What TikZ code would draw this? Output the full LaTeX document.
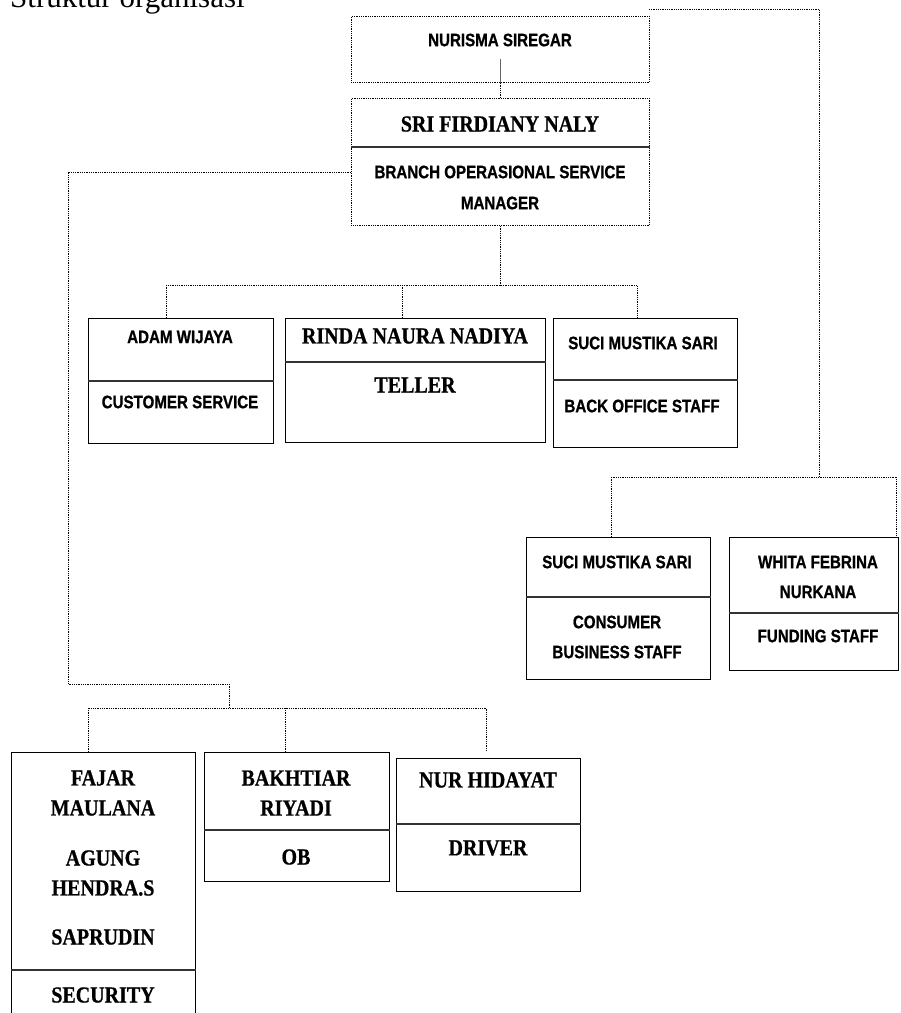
\documentclass[tikz,border=0pt]{standalone}
\usepackage{fontspec}
\setmainfont{Liberation Serif}
\newfontfamily\lblsans[FakeStretch=0.84,FakeBold=0.9]{Liberation Sans Bold}
\newfontfamily\lblserif[FakeStretch=0.87,FakeBold=0.7]{Liberation Serif Bold}

\begin{document}
\begin{tikzpicture}[x=1pt,y=-1pt,
  box/.style={draw,line width=0.8pt,inner sep=0pt,anchor=north west},
  dbox/.style={box,densely dotted},
  link/.style={densely dotted,line width=0.8pt},
  sepline/.style={line width=1.1pt,draw=black!80},
  sans/.style={inner sep=0pt,font=\lblsans\fontsize{18}{18}\selectfont},
  serif/.style={inner sep=0pt,font=\lblserif\fontsize{23}{23}\selectfont}]
% ---- ukuran halaman (piksel) ----
\fill[white] (0,0) rectangle (901,1013);
\useasboundingbox (0,0) rectangle (901,1013);
\node[anchor=base west,inner sep=0pt,font=\fontsize{31}{31}\selectfont] (judul) at (10,7) {Struktur organisasi};

% ---- pimpinan ----
\node[dbox,minimum width=298,minimum height=66] (nurisma) at (351,16) {};
\node[sans] (nurismaN) at (500,40) {NURISMA SIREGAR};
\node[dbox,minimum width=298,minimum height=127] (sri) at (351,98) {};
\draw[sepline] (sri.west |- 0,147) -- (sri.east |- 0,147);
\node[serif] (sriN) at (500,124) {SRI FIRDIANY NALY};
\node[sans] (sriJ1) at (500,172) {BRANCH OPERASIONAL SERVICE};
\node[sans] (sriJ2) at (500,203) {MANAGER};

% ---- baris tengah ----
\node[box,minimum width=185,minimum height=125] (adam) at (88,318) {};
\draw[sepline] (adam.west |- 0,381) -- (adam.east |- 0,381);
\node[sans] (adamN) at (180,337) {ADAM WIJAYA};
\node[sans] (adamJ) at (180,402) {CUSTOMER SERVICE};
\node[box,minimum width=260,minimum height=124] (teller) at (285,318) {};
\draw[sepline] (teller.west |- 0,362) -- (teller.east |- 0,362);
\node[serif] (tellerN) at (415,336) {RINDA NAURA NADIYA};
\node[serif] (tellerJ) at (415,385) {TELLER};
\node[box,minimum width=184,minimum height=129] (suci) at (553,318) {};
\draw[sepline] (suci.west |- 0,380) -- (suci.east |- 0,380);
\node[sans] (suciN) at (643,343) {SUCI MUSTIKA SARI};
\node[sans] (suciJ) at (642,406) {BACK OFFICE STAFF};

% ---- baris kanan ----
\node[box,minimum width=184,minimum height=142] (consumer) at (526,537) {};
\draw[sepline] (consumer.west |- 0,597) -- (consumer.east |- 0,597);
\node[sans] (consumerN) at (617,562) {SUCI MUSTIKA SARI};
\node[sans] (consumerJ1) at (617,622) {CONSUMER};
\node[sans] (consumerJ2) at (617,652) {BUSINESS STAFF};
\node[box,minimum width=169,minimum height=133] (whita) at (729,537) {};
\draw[sepline] (whita.west |- 0,613) -- (whita.east |- 0,613);
\node[sans] (whitaN1) at (818,562) {WHITA FEBRINA};
\node[sans] (whitaN2) at (818,592) {NURKANA};
\node[sans] (whitaJ) at (818,636) {FUNDING STAFF};

% ---- baris bawah ----
\node[box,minimum width=184,minimum height=290] (fajar) at (11,752) {};
\draw[sepline] (fajar.west |- 0,970) -- (fajar.east |- 0,970);
\foreach \t/\y [count=\i] in {FAJAR/778,MAULANA/808,AGUNG/858,HENDRA.S/888,SAPRUDIN/937}
  \node[serif] (fajarN\i) at (103,\y) {\t};
\node[serif] (fajarJ) at (103,995) {SECURITY};
\node[box,minimum width=185,minimum height=129] (bakhtiar) at (204,752) {};
\draw[sepline] (bakhtiar.west |- 0,830) -- (bakhtiar.east |- 0,830);
\node[serif] (bakhtiarN1) at (296,778) {BAKHTIAR};
\node[serif] (bakhtiarN2) at (296,808) {RIYADI};
\node[serif] (bakhtiarJ) at (296,857) {OB};
\node[box,minimum width=184,minimum height=133] (nur) at (396,758) {};
\draw[sepline] (nur.west |- 0,824) -- (nur.east |- 0,824);
\node[serif] (nurN) at (488,780) {NUR HIDAYAT};
\node[serif] (nurJ) at (488,848) {DRIVER};

% ---- garis penghubung ----
\draw[line width=0.8pt,black!60] ([yshift=24pt]nurisma.south) -- (nurisma.south);
\draw[link] (nurisma.south) -- (sri.north);
\draw[link] (sri.south) -- ++(0,60) coordinate (busM);
\draw[link] ([xshift=-15pt]adam.north) |- (busM) -| ([xshift=-8pt]suci.north);
\draw[link] ([xshift=-13pt]teller.north) -- ++(0,-33);
\coordinate (topR) at (649,9);
\coordinate (cornerR) at (819,9);
\coordinate (busR) at (819,477);
\draw[link] (topR) -- (cornerR) -- (busR);
\draw[link] ([xshift=-7pt]consumer.north) |- (busR) -| ([xshift=-2pt]whita.north east);
\draw[link] ([yshift=-10pt]sri.west) -- ++(-283,0) -- ++(0,512) -- ++(161,0) -- ++(0,24) coordinate (busB);
\draw[link] ([xshift=-15pt]fajar.north) |- (busB) -| ([xshift=-2pt,yshift=7pt]nur.north);
\draw[link] ([xshift=-12pt]bakhtiar.north) -- ++(0,-44);
\end{tikzpicture}
\end{document}
